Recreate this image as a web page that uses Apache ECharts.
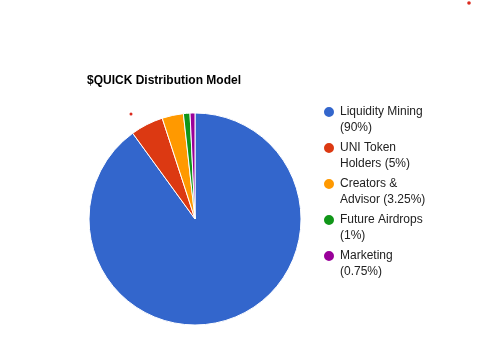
<!DOCTYPE html>
<html>
<head>
<meta charset="utf-8">
<script src="https://cdn.jsdelivr.net/npm/echarts@6/dist/echarts.min.js"></script>
<style>
html,body{margin:0;padding:0;background:#fff;}
#chart{width:482px;height:361px;}
</style>
</head>
<body>
<div id="chart"></div>
<script>
const categories = ['Liquidity Mining', 'UNI Token Holders', 'Creators & Advisor', 'Future Airdrops', 'Marketing'];
const values = [90, 5, 3.25, 1, 0.75];
const legendLabels = ['Liquidity Mining\n(90%)', 'UNI Token\nHolders (5%)', 'Creators &\nAdvisor (3.25%)', 'Future Airdrops\n(1%)', 'Marketing\n(0.75%)'];
const colors = ['#3366cc', '#dc3912', '#ff9900', '#109618', '#990099'];

const chart = echarts.init(document.getElementById('chart'));
const labelMap = {};
categories.forEach((c, i) => { labelMap[c] = ' \n' + legendLabels[i]; });

chart.setOption({
  animation: false,
  color: colors,
  title: {
    text: '$QUICK Distribution Model',
    left: 82,
    top: 70,
    textStyle: { fontFamily: 'Liberation Sans, Arial', fontSize: 12, fontWeight: 'bold', color: '#000' }
  },
  legend: {
    orient: 'vertical',
    left: 317,
    top: 83,
    icon: 'circle',
    itemWidth: 12,
    itemHeight: 12,
    itemGap: -12,
    formatter: name => labelMap[name],
    textStyle: {
      fontFamily: 'Liberation Sans, Arial',
      fontSize: 12,
      lineHeight: 16,
      color: '#222'
    },
    data: categories
  },
  series: [{
    type: 'pie',
    center: [195, 219],
    radius: 106,
    startAngle: 90,
    clockwise: true,
    label: { show: false },
    labelLine: { show: false },
    itemStyle: { borderColor: '#fff', borderWidth: 1 },
    emphasis: { disabled: true },
    data: categories.map((c, i) => ({ name: c, value: values[i] }))
  }],
  graphic: [
    { type: 'circle', shape: { cx: 131, cy: 114, r: 1.5 }, style: { fill: '#dc2a1e' } },
    { type: 'circle', shape: { cx: 469, cy: 3, r: 1.8 }, style: { fill: '#dc2a1e' } }
  ]
});
</script>
</body>
</html>
